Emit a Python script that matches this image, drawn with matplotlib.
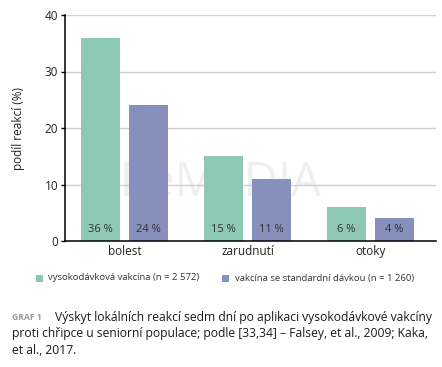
import matplotlib
matplotlib.use("Agg")
import matplotlib.pyplot as plt
from matplotlib.patches import Rectangle
import numpy as np

categories = ["bolest", "zarudnutí", "otoky"]
high_dose = [36, 15, 6]
standard_dose = [24, 11, 4]
series_names = ["vysokodávková vakcína (n = 2 572)", "vakcína se standardní dávkou (n = 1 260)"]
yticks = [0, 10, 20, 30, 40]

plt.rcParams['font.family'] = ['Open Sans', 'DejaVu Sans']

teal = "#8dc8b4"
purple = "#8790bd"

W, H = 442, 367
fig = plt.figure(figsize=(W/100, H/100), dpi=100)
ax = fig.add_axes([65/W, 1 - 241/H, 371/W, 226/H])

x = np.arange(len(categories))
w = 0.317
off = 0.195

ax.text(0.418, 0.257, "ReMeDIA", transform=ax.transAxes, fontsize=34, color="#efefef",
        ha="center", va="center", zorder=0)

ax.bar(x - off, high_dose, w, color=teal, zorder=2)
ax.bar(x + off, standard_dose, w, color=purple, zorder=2)

for xi, v in zip(x - off, high_dose):
    ax.text(xi, 2.1, f"{v} %", ha="center", va="center", fontsize=8, color="#333333", zorder=3)
for xi, v in zip(x + off, standard_dose):
    ax.text(xi, 2.1, f"{v} %", ha="center", va="center", fontsize=8, color="#333333", zorder=3)

ax.set_xlim(-0.484, 2.533)
ax.set_ylim(0, 40)
ax.set_yticks(yticks)
ax.set_yticklabels([str(t) for t in yticks], fontsize=8.5, color="#222222")
ax.set_xticks(x)
ax.set_xticklabels(categories, fontsize=8.5, color="#222222")
ax.tick_params(axis="x", length=0, pad=3)
ax.tick_params(axis="y", length=3, width=1, pad=2)
ax.yaxis.grid(True, color="#d0d0d0", linewidth=1, zorder=0)
ax.set_axisbelow(True)
for s in ["top", "right"]:
    ax.spines[s].set_visible(False)
ax.spines["left"].set_linewidth(1.1)
ax.spines["bottom"].set_linewidth(1.1)
ax.set_ylabel("podíl reakcí (%)", fontsize=8.5, color="#222222", labelpad=14)

# legend
ly = 278
for sx, tx, col, name in [(36, 48, teal, series_names[0]), (222, 235, purple, series_names[1])]:
    fig.add_artist(Rectangle((sx/W, 1 - (ly + 3.5)/H), 7/W, 7/H, transform=fig.transFigure,
                             facecolor=col, edgecolor="none"))
    fig.text(tx/W, 1 - ly/H, name, fontsize=6.8, color="#333333", va="center", ha="left")

# caption
fig.text(12/W, 1 - 318/H, "GRAF 1", fontsize=6.2, color="#999999", fontweight="bold", va="center", ha="left")
cap_lines = [
    (55, 318, "Výskyt lokálních reakcí sedm dní po aplikaci vysokodávkové vakcíny"),
    (12, 334, "proti chřipce u seniorní populace; podle [33,34] – Falsey, et al., 2009; Kaka,"),
    (12, 350, "et al., 2017."),
]
for px, py, t in cap_lines:
    fig.text(px/W, 1 - py/H, t, fontsize=8.7, color="#1a1a1a", va="center", ha="left")

fig.savefig("out.png", dpi=100)
